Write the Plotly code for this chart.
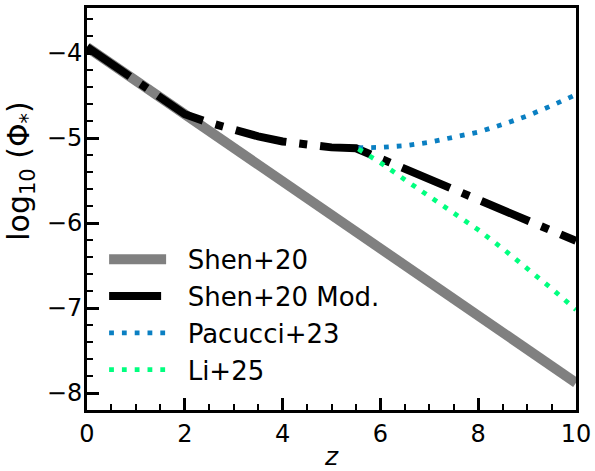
import plotly.graph_objects as go

# ---- data ----
z_shen = [0, 1, 2, 3, 4, 5, 6, 7, 8, 9, 10]
phi_shen = [-3.93, -4.325, -4.72, -5.115, -5.51, -5.905, -6.30, -6.695, -7.09, -7.485, -7.88]

z_mod = [0, 1, 2, 2.5, 3, 3.5, 4, 4.5, 5, 5.5, 6, 7, 8, 9, 10]
phi_mod = [-3.93, -4.325, -4.72, -4.82, -4.91, -4.98, -5.04, -5.085, -5.11, -5.12,
           -5.24, -5.48, -5.72, -5.97, -6.21]

z_pac = [5.55, 6, 6.5, 7, 7.5, 8, 8.5, 9, 9.5, 10]
phi_pac = [-5.115, -5.11, -5.09, -5.05, -4.99, -4.93, -4.84, -4.74, -4.62, -4.49]

z_li = [5.55, 6, 6.5, 7, 7.5, 8, 8.5, 9, 9.5, 10]
phi_li = [-5.13, -5.29, -5.49, -5.69, -5.88, -6.08, -6.30, -6.53, -6.77, -7.02]

names = ["Shen+20", "Shen+20 Mod.", "Pacucci+23", "Li+25"]
y_title = "log<sub>10</sub> (Φ<sub>*</sub>)"
x_title = "<i>z</i>"

x_range = [0, 10]
y_range = [-8.2, -3.47]

FONT = "DejaVu Sans"
PAD = "\u00a0\u00a0"

fig = go.Figure()
fig.add_trace(go.Scatter(x=z_shen, y=phi_shen, mode="lines", name=PAD + names[0],
                         line=dict(color="#808080", width=10)))
fig.add_trace(go.Scatter(x=z_mod, y=phi_mod, mode="lines", name=PAD + names[1],
                         line=dict(color="black", width=8, dash="52px,13px,8px,13px")))
fig.add_trace(go.Scatter(x=z_pac, y=phi_pac, mode="lines", name=PAD + names[2],
                         line=dict(color="#0A7FC2", width=4.8, dash="4.8px,8px")))
fig.add_trace(go.Scatter(x=z_li, y=phi_li, mode="lines", name=PAD + names[3],
                         line=dict(color="#00FF7F", width=4.8, dash="4.8px,8px")))

axis_common = dict(
    showline=True, linecolor="black", linewidth=3, mirror=True,
    ticks="inside", ticklen=12, tickwidth=2.5, tickcolor="black",
    showgrid=False, zeroline=False, automargin=False,
    tickfont=dict(family=FONT, size=24, color="black"),
)

fig.update_xaxes(range=x_range, dtick=2, tick0=0,
                 minor=dict(dtick=0.5, ticks="inside", ticklen=6, tickwidth=2, tickcolor="black"),
                 title=dict(text=x_title, font=dict(family=FONT, size=25, color="black"), standoff=5),
                 **axis_common)
fig.update_yaxes(range=y_range, dtick=1, tick0=0,
                 minor=dict(dtick=0.2, ticks="inside", ticklen=6, tickwidth=2, tickcolor="black"),
                 ticklabelstandoff=-3,
                 **axis_common)

fig.add_annotation(text=y_title, xref="paper", yref="paper",
                   x=-0.135, y=0.595, xanchor="center", yanchor="middle",
                   textangle=-90, showarrow=False,
                   font=dict(family=FONT, size=30, color="black"))

fig.update_layout(
    width=595, height=471,
    margin=dict(l=87, r=19, t=8, b=61, autoexpand=False),
    plot_bgcolor="white", paper_bgcolor="white",
    font=dict(family=FONT, color="black"),
    showlegend=True,
    legend=dict(x=0.035, y=0.04, xanchor="left", yanchor="bottom",
                bgcolor="rgba(0,0,0,0)", borderwidth=0,
                font=dict(family=FONT, size=26, color="black"),
                itemwidth=57, tracegroupgap=10),
)

fig.write_html("out.html")
